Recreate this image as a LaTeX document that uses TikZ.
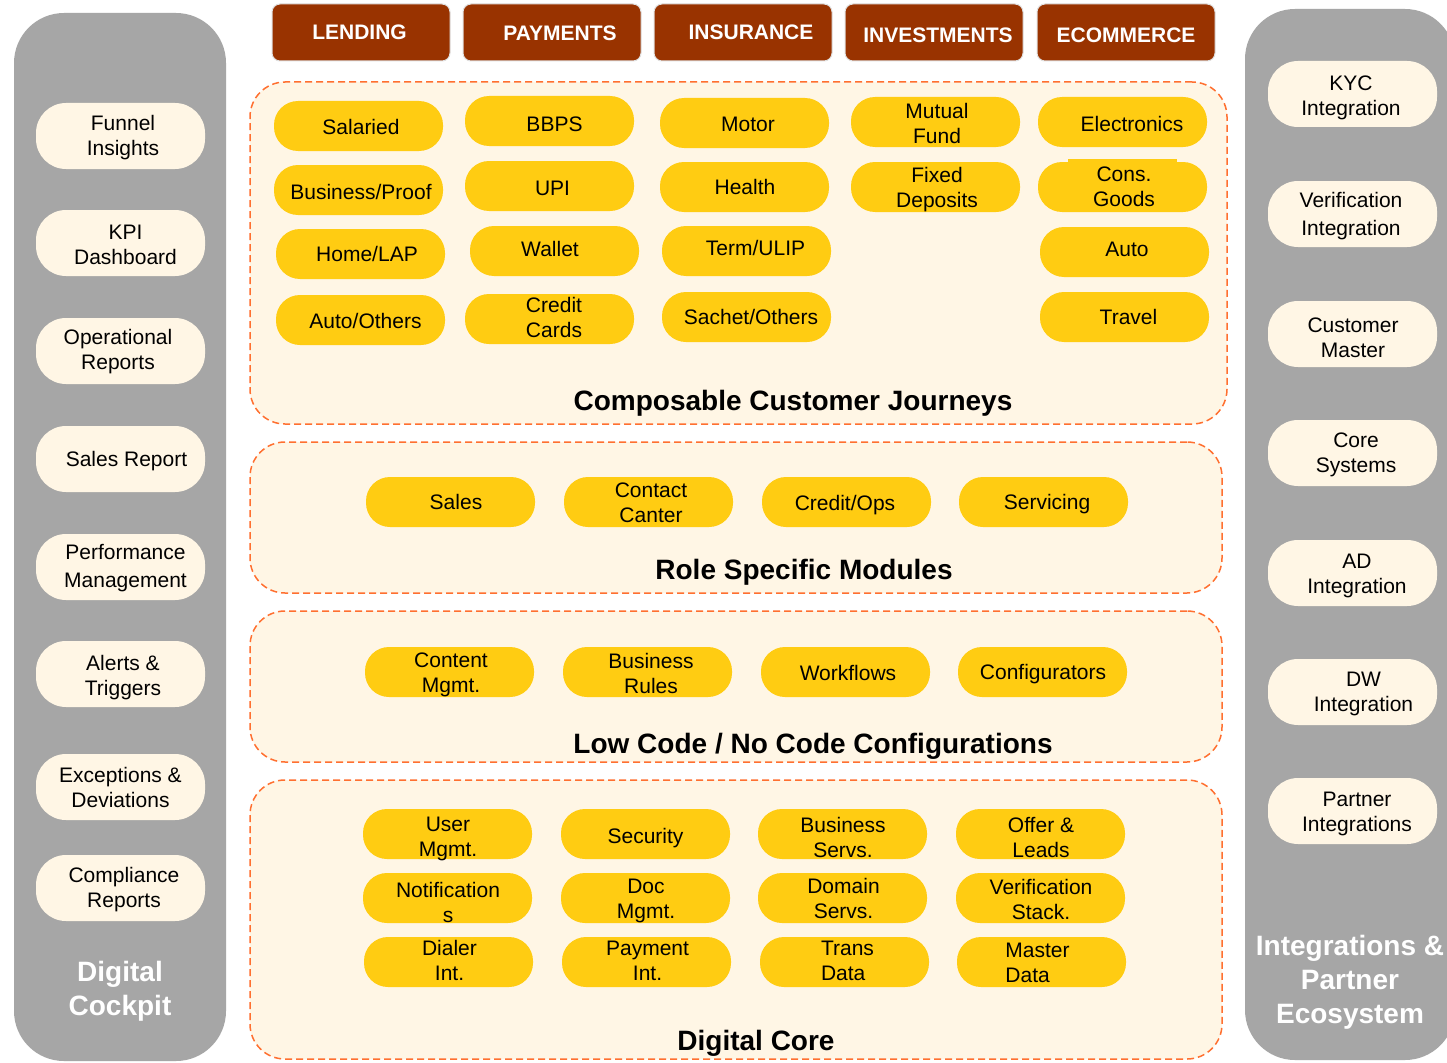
\documentclass[tikz,border=0pt]{standalone}
\usepackage{fontspec}
\setmainfont{Liberation Sans}
\definecolor{panelgray}{HTML}{A6A6A6}
\definecolor{cream}{HTML}{FFF6E5}
\definecolor{pillyellow}{HTML}{FFCC12}
\definecolor{hdrbrown}{HTML}{993300}
\definecolor{dashorange}{HTML}{FF7030}
% #1 extra text options, #2 name, #3 position, #4 text offset, #5 text
\newcommand\ypill[5][]{\node[pill] (#2) at (#3) {};
  \node[ptxt,#1] (#2t) at ([shift={(#4)}]#2.center) {#5};}
\newcommand\cpill[5][]{\node[sidepill] (#2) at (#3) {};
  \node[ptxt,#1] (#2t) at ([shift={(#4)}]#2.center) {#5};}
\newcommand\hdrbox[4]{\node[hdr] (#1) at (#2) {};
  \node[htxt] (#1t) at ([shift={(#3)}]#1.center) {#4};}
\begin{document}
\begin{tikzpicture}[x=1pt,y=-1pt,
 panel/.style={fill=panelgray, draw=none, rounded corners=50pt, inner sep=0pt},
 sidepill/.style={fill=cream, rounded corners=30pt, minimum width=169pt, minimum height=66pt, inner sep=0pt},
 pill/.style={fill=pillyellow, rounded corners=24pt, minimum width=169pt, minimum height=50pt, inner sep=0pt},
 ptxt/.style={inner sep=0pt, align=center, font=\fontsize{21}{25}\selectfont},
 hdr/.style={fill=hdrbrown, draw=black!12, line width=1pt, rounded corners=8pt, minimum width=178pt, minimum height=57pt, inner sep=0pt},
 htxt/.style={inner sep=0pt, text=white, font=\fontsize{21}{25}\selectfont\bfseries},
 section/.style={fill=cream, draw=dashorange, dash pattern=on 7pt off 4pt, line width=1.5pt, rounded corners=35pt, inner sep=0pt},
 sectitle/.style={font=\fontsize{28}{33}\selectfont\bfseries, inner sep=0pt},
 sidetitle/.style={font=\fontsize{28}{34}\selectfont\bfseries, text=white, align=center, inner sep=0pt}
]
\useasboundingbox (0,0) rectangle (1447,1062);
\fill[white] (0,0) rectangle (1447,1062);

% side panels
\node[panel, minimum width=212pt, minimum height=1048pt] (cockpit) at (120,537) {};
\node[panel, minimum width=210pt, minimum height=1051pt] (ecosys) at (1350,534.5) {};

% headers
\hdrbox{lending}{361,32.5}{-1.5,0}{LENDING}
\hdrbox{payments}{552,32.5}{8,0.5}{PAYMENTS}
\hdrbox{insurance}{743,32.5}{8,0}{INSURANCE}
\hdrbox{investments}{934,32.5}{4,2.5}{INVESTMENTS}
\hdrbox{ecommerce}{1126,32.5}{0,2.5}{ECOMMERCE}

% sections
\node[section, minimum width=977pt, minimum height=342pt] (sec1) at (738.5,253) {};
\node[section, minimum width=972pt, minimum height=151pt] (sec2) at (736,517.5) {};
\node[section, minimum width=972pt, minimum height=151pt] (sec3) at (736,686.5) {};
\node[section, minimum width=972pt, minimum height=279pt] (sec4) at (736,919.5) {};

\node[sectitle] (t1) at (793,403) {Composable Customer Journeys};
\node[sectitle] (t2) at (804,572) {Role Specific Modules};
\node[sectitle] (t3) at (813,746) {Low Code / No Code Configurations};
\node[sectitle] (t4) at (756,1043) {Digital Core};

% left side pills
\cpill{l1}{120.5,136}{2.5,1.5}{Funnel\\Insights}
\cpill{l2}{120.5,243}{5,1.5}{KPI\\Dashboard}
\cpill{l3}{120.5,351}{-2.5,1}{Operational\\Reports}
\cpill{l4}{120.5,459}{6,2}{Sales Report}
\cpill[font=\fontsize{21}{28}\selectfont]{l5}{120.5,567}{5,1.5}{Performance\\Management}
\cpill{l6}{120.5,674}{2.5,4}{Alerts \&\\Triggers}
\cpill{l7}{120.5,787}{0,0}{Exceptions \&\\Deviations}
\cpill{l8}{120.5,888}{3.5,2}{Compliance\\Reports}
\node[sidetitle] (lt) at (120,991) {Digital\\Cockpit};

% right side pills
\cpill{r1}{1352.5,94}{-1.5,3.5}{KYC\\Integration}
\cpill[font=\fontsize{21}{28}\selectfont]{r2}{1352.5,214}{-1.5,2}{Verification\\Integration}
\cpill{r3}{1352.5,334}{0.5,3.5}{Customer\\Master}
\cpill{r4}{1352.5,453}{3.5,1.5}{Core\\Systems}
\cpill{r5}{1352.5,573}{4.5,3}{AD\\Integration}
\cpill{r6}{1352.5,692}{11,1.5}{DW\\Integration}
\cpill{r7}{1352.5,811}{4.5,3}{Partner\\Integrations}
\node[sidetitle] (rt) at (1350,982) {Integrations \&\\Partner\\Ecosystem};

% section 1 pills
\ypill{a1}{358.5,126}{2.5,1}{Salaried}
\ypill{a2}{358.5,190}{2.5,2}{Business/Proof}
\ypill{a3}{360.5,254}{6.5,0}{Home/LAP}
\ypill{a4}{360.5,320}{5,1}{Auto/Others}
\ypill{b1}{549.5,121}{5,3}{BBPS}
\ypill{b2}{549.5,186}{3,2}{UPI}
\ypill{b3}{554.5,251}{-4.5,-2}{Wallet}
\ypill{b4}{549.5,319}{4.5,-1.5}{Credit\\Cards}
\ypill{c1}{744.5,123}{3.5,1}{Motor}
\ypill{c2}{744.5,187}{0.5,0}{Health}
\ypill{c3}{746.5,251}{9,-3}{Term/ULIP}
\ypill{c4}{746.5,317}{4.5,0}{Sachet/Others}
\ypill{d1}{935.5,122}{1.5,1}{Mutual\\Fund}
\ypill{d2}{935.5,187}{1.5,3}{Fixed\\Deposits}
\fill[pillyellow] (1068,159) rectangle (1177,170);
\ypill{e1}{1122.5,122}{9.5,2}{Electronics}
\ypill{e2}{1122.5,187}{1.5,0}{Cons.\\Goods}
\ypill{e3}{1124.5,252}{2.5,-3}{Auto}
\ypill{e4}{1124.5,317}{4,0}{Travel}

% section 2 pills
\ypill{m1}{450.5,502}{5.5,0}{Sales}
\ypill{m2}{648.5,502}{2.5,1}{Contact\\Canter}
\ypill{m3}{846.5,502}{-1.5,3}{Credit/Ops}
\ypill{m4}{1043.5,502}{3.5,2}{Servicing}

% section 3 pills
\ypill{n1}{449.5,672}{1.5,2.5}{Content\\Mgmt.}
\ypill{n2}{647.5,672}{3.5,1}{Business\\Rules}
\ypill{n3}{845.5,672}{2.5,1}{Workflows}
\ypill{n4}{1042.5,672}{0.5,2}{Configurators}

% section 4 pills
\ypill{p1}{447.5,834}{0.5,5}{User\\Mgmt.}
\ypill{p2}{645.5,834}{0,4}{Security}
\ypill{p3}{842.5,834}{0.5,3}{Business\\Servs.}
\ypill{p4}{1040.5,834}{0.5,3}{Offer \&\\Leads}
\ypill{q1}{447.5,898}{0.5,4}{Notification\\s}
\ypill{q2}{645.5,898}{0.5,3}{Doc\\Mgmt.}
\ypill{q3}{842.5,898}{1,0.5}{Domain\\Servs.}
\ypill{q4}{1040.5,898}{0.5,1.5}{Verification\\Stack.}
\ypill{s1}{448.5,962}{1,-1.5}{Dialer\\Int.}
\ypill{s2}{646.5,962}{1,-1}{Payment\\Int.}
\ypill[align=left]{s3}{844.5,962}{3,-1}{Trans\\Data}
\ypill[align=left]{s4}{1041.5,962}{-4,1}{Master\\Data}
\end{tikzpicture}
\end{document}
